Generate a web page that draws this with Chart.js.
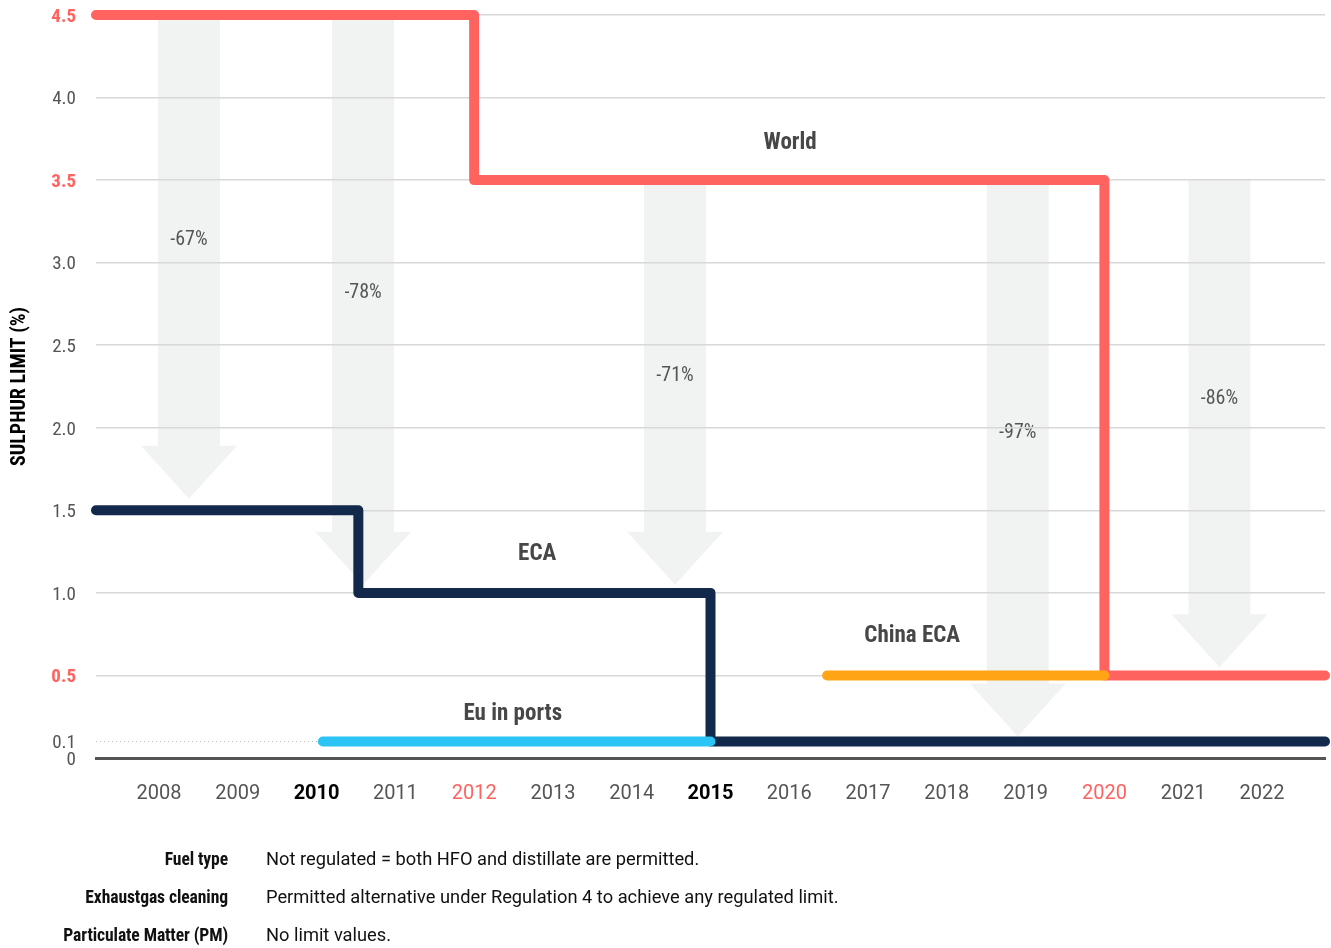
<!DOCTYPE html>
<html>
<head>
<meta charset="utf-8">
<script src="https://cdn.jsdelivr.net/npm/chart.js@4"></script>
<style>
  body { margin: 0; background: #fff; }
  #wrap { position: relative; width: 1331px; height: 948px; }
  .note { position: absolute; left: 0; width: 1331px; height: 30px; line-height: 30px; white-space: nowrap; color: #111; }
  .note .lbl { position: absolute; right: 1103px; font-family: Roboto, sans-serif; font-stretch: 75%; font-weight: bold; font-size: 17.6px; letter-spacing: -0.1px; }
  .note .txt { position: absolute; left: 266px; font-family: Roboto, sans-serif; font-size: 18.3px; }
</style>
</head>
<body>
<div id="wrap">
  <canvas id="chart" width="1331" height="948"></canvas>
  <div class="note" style="top:844px"><span class="lbl">Fuel type</span><span class="txt">Not regulated = both HFO and distillate are permitted.</span></div>
  <div class="note" style="top:882px"><span class="lbl">Exhaustgas cleaning</span><span class="txt">Permitted alternative under Regulation 4 to achieve any regulated limit.</span></div>
  <div class="note" style="top:920px"><span class="lbl">Particulate Matter (PM)</span><span class="txt">No limit values.</span></div>
</div>
<script>
// step lines: year where each limit starts, and the limit (% sulphur)
const worldYears = [2007.2, 2012, 2020, 2022.8];
const worldLimits = [4.5, 3.5, 0.5, 0.5];
const ecaYears = [2007.2, 2010.53, 2015, 2022.8];
const ecaLimits = [1.5, 1.0, 0.1, 0.1];
const euPortYears = [2010.08, 2015];
const euPortLimits = [0.1, 0.1];
const chinaYears = [2016.48, 2020];
const chinaLimits = [0.5, 0.5];
const dottedYears = [2007.2, 2010.08];
const dottedLimits = [0.1, 0.1];

// reduction arrows
const arrowYears = [2008.38, 2010.59, 2014.55, 2018.9, 2021.46];
const arrowFrom = [4.5, 4.5, 3.5, 3.5, 3.5];
const arrowTo = [1.57, 1.05, 1.05, 0.13, 0.55];
const arrowLabels = ['-67%', '-78%', '-71%', '-97%', '-86%'];
const arrowLabelAt = [3.16, 2.84, 2.34, 1.99, 2.2];

// line names
const lineNames = ['World', 'ECA', 'China ECA', 'Eu in ports'];
const lineNameYears = [2016.01, 2012.8, 2017.56, 2012.49];
const lineNameAt = [3.75, 1.26, 0.76, 0.29];

// axes
const yTicks = [0, 0.1, 0.5, 1.0, 1.5, 2.0, 2.5, 3.0, 3.5, 4.0, 4.5];
const yTickLabels = ['0', '0.1', '0.5', '1.0', '1.5', '2.0', '2.5', '3.0', '3.5', '4.0', '4.5'];
const yRed = [0.5, 3.5, 4.5];
const xYears = [2008, 2009, 2010, 2011, 2012, 2013, 2014, 2015, 2016, 2017, 2018, 2019, 2020, 2021, 2022];
const xBold = [2010, 2015];
const xRed = [2012, 2020];

const RED = '#ff6360';
const NAVY = '#13294b';
// Roboto squeezed to 75% width stands in for the condensed face of the original
const FAMILY = 'Roboto, sans-serif';
const TEXT_NUDGE = 4;  // roboto sits a little high with middle baseline

function pts(xs, ys) {
    return xs.map(function(x, i) { return {x: x, y: ys[i]}; });
}

function tickval(c) {
    return c.tick ? c.tick.value : null;
}

function stepLine(label, xs, ys, color) {
    return {
        label: label,
        data: pts(xs, ys),
        borderColor: color,
        borderWidth: 10,
        borderCapStyle: 'round',
        borderJoinStyle: 'round',
        stepped: 'before',
        pointRadius: 0,
        fill: false,
        clip: false,
    };
}

const arrowPlugin = {
    id: 'arrows',
    beforeDraw: function(chart) {
        const ctx = chart.ctx;
        const x = chart.scales.x, y = chart.scales.y;
        ctx.save();
        ctx.fillStyle = '#f1f3f2';
        for (let i = 0; i < arrowYears.length; i++) {
            const cx = x.getPixelForValue(arrowYears[i]);
            const top = y.getPixelForValue(arrowFrom[i]);
            const tip = y.getPixelForValue(arrowTo[i]);
            const hw = 31, headW = 48, headH = 53;
            ctx.beginPath();
            ctx.moveTo(cx - hw, top);
            ctx.lineTo(cx + hw, top);
            ctx.lineTo(cx + hw, tip - headH);
            ctx.lineTo(cx + headW, tip - headH);
            ctx.lineTo(cx, tip);
            ctx.lineTo(cx - headW, tip - headH);
            ctx.lineTo(cx - hw, tip - headH);
            ctx.closePath();
            ctx.fill();
        }
        ctx.fillStyle = '#555';
        ctx.font = 'condensed 20px ' + FAMILY;
        ctx.textAlign = 'center';
        ctx.textBaseline = 'middle';
        for (let i = 0; i < arrowYears.length; i++) {
            ctx.fillText(arrowLabels[i], x.getPixelForValue(arrowYears[i]), y.getPixelForValue(arrowLabelAt[i]) + TEXT_NUDGE);
        }
        ctx.restore();
    },
    afterDatasetsDraw: function(chart) {
        const ctx = chart.ctx;
        const x = chart.scales.x, y = chart.scales.y;
        ctx.save();
        ctx.fillStyle = '#474747';
        ctx.font = 'bold condensed 23px ' + FAMILY;
        ctx.textAlign = 'center';
        ctx.textBaseline = 'middle';
        for (let i = 0; i < lineNames.length; i++) {
            ctx.fillText(lineNames[i], x.getPixelForValue(lineNameYears[i]), y.getPixelForValue(lineNameAt[i]) + TEXT_NUDGE);
        }
        ctx.restore();
    }
};

new Chart(document.getElementById('chart'), {
    type: 'line',
    data: {
        datasets: [
            stepLine('China ECA', chinaYears, chinaLimits, '#ffa414'),
            stepLine('Eu in ports', euPortYears, euPortLimits, '#2cc4f4'),
            stepLine('ECA', ecaYears, ecaLimits, NAVY),
            stepLine('World', worldYears, worldLimits, RED),
            {
                label: 'ref 0.1',
                data: pts(dottedYears, dottedLimits),
                borderColor: '#bdbdbd',
                borderWidth: 1,
                borderDash: [1, 3],
                pointRadius: 0,
                fill: false,
            },
        ]
    },
    options: {
        responsive: false,
        animation: false,
        layout: { padding: { top: 15, right: 6, bottom: 130, left: 0 } },
        plugins: {
            legend: { display: false },
            tooltip: { enabled: false },
        },
        scales: {
            x: {
                type: 'linear',
                min: 2007.2,
                max: 2022.8,
                afterBuildTicks: function(scale) {
                    scale.ticks = xYears.map(function(v) { return {value: v}; });
                },
                afterFit: function(scale) { scale.height = 60; },
                grid: { display: false, drawTicks: false },
                border: { display: true, color: '#555', width: 3 },
                ticks: {
                    padding: 24,
                    callback: function(v) { return String(v); },
                    color: function(c) {
                        const v = tickval(c);
                        if (xBold.includes(v)) return '#000';
                        if (xRed.includes(v)) return RED;
                        return '#555';
                    },
                    font: function(c) {
                        const v = tickval(c);
                        return { family: FAMILY, size: 20, weight: xBold.includes(v) ? 'bold' : 'normal' };
                    },
                },
            },
            y: {
                min: 0,
                max: 4.5,
                afterBuildTicks: function(scale) {
                    scale.ticks = yTicks.map(function(v) { return {value: v}; });
                },
                afterFit: function(scale) { scale.width = 96; },
                grid: {
                    drawTicks: true,
                    tickLength: 20,
                    tickColor: 'rgba(0,0,0,0)',
                    lineWidth: 1.5,
                    color: function(c) {
                        const v = tickval(c);
                        if (v === 0 || v === 0.1) return 'rgba(0,0,0,0)';
                        return '#d8d8d8';
                    },
                },
                border: { display: false },
                title: {
                    display: true,
                    text: 'SULPHUR LIMIT (%)',
                    color: '#000',
                    font: { family: FAMILY, size: 20, weight: 'bold condensed' },
                    padding: { top: 8, bottom: 0 },
                },
                ticks: {
                    padding: 0,
                    labelOffset: 2,
                    callback: function(v, i) { return yTickLabels[i]; },
                    color: function(c) {
                        return yRed.includes(tickval(c)) ? RED : '#555';
                    },
                    font: function(c) {
                        return { family: FAMILY, size: 19, weight: yRed.includes(tickval(c)) ? 'bold condensed' : 'condensed' };
                    },
                },
            },
        },
    },
    plugins: [arrowPlugin],
});
</script>
</body>
</html>
